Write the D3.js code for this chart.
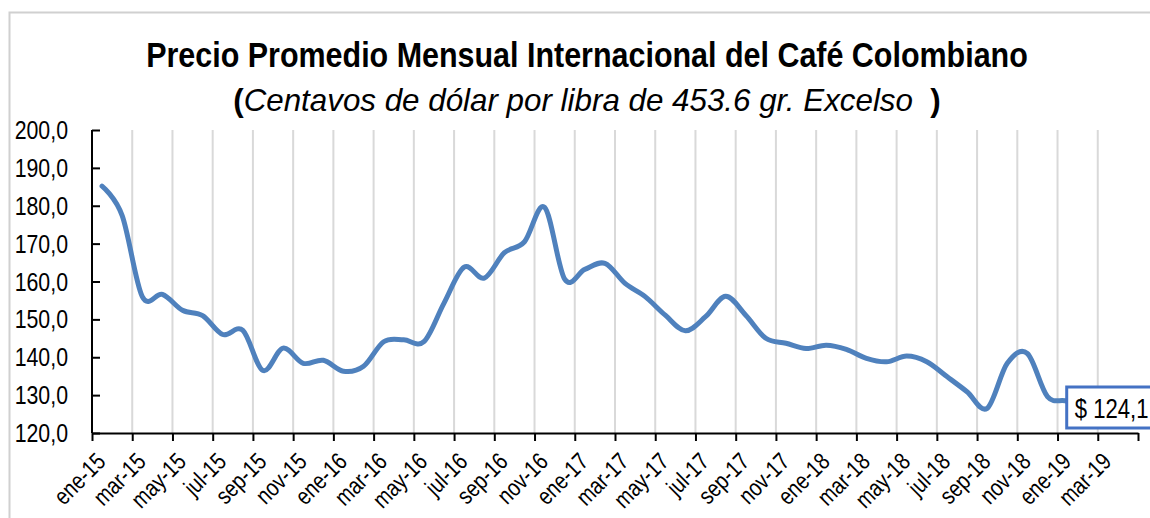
<!DOCTYPE html>
<html lang="es">
<head>
<meta charset="UTF-8">
<script src="https://cdn.jsdelivr.net/npm/d3@7"></script>
<title>Precio Promedio Mensual Internacional del Café Colombiano</title>
<style>
  body { margin: 0; background: #fff; }
  svg text { font-family: "Liberation Sans Narrow", "Arial Narrow", "Liberation Sans", Arial, sans-serif; fill: #000; }
  .grid line { stroke: #d9d9d9; stroke-width: 2px; }
</style>
</head>
<body>
<svg id="chart" width="1150" height="518"></svg>
<script>
// meses ene-15 .. feb-19 (índice de mes desde ene-15)
var precios = [185.2, 177.4, 156.0, 156.6, 152.4, 151.0, 146.0, 147.1, 136.5, 142.4,
               138.4, 139.2, 136.3, 137.6, 144.1, 144.6, 144.1, 154.3, 163.8, 160.9,
               167.6, 170.5, 179.6, 160.6, 163.2, 164.8, 159.5, 156.0, 151.1, 147.0,
               150.7, 156.1, 151.1, 145.0, 143.7, 142.3, 143.2, 142.1, 139.7, 138.8,
               140.3, 138.8, 134.9, 130.9, 126.5, 138.4, 141.0, 129.6, 128.3, 124.1];
var etiquetasX = ["ene-15","mar-15","may-15","jul-15","sep-15","nov-15",
                  "ene-16","mar-16","may-16","jul-16","sep-16","nov-16",
                  "ene-17","mar-17","may-17","jul-17","sep-17","nov-17",
                  "ene-18","mar-18","may-18","jul-18","sep-18","nov-18",
                  "ene-19","mar-19"];
var ticksY = [120, 130, 140, 150, 160, 170, 180, 190, 200];
var ultimoValor = "$ 124,1";

var svg = d3.select("svg#chart");
var angosto = " scale(0.82,1)"; // no hay fuente "narrow": se comprime a mano

// borde del gráfico
svg.append("rect")
    .attr("x", 9.5).attr("y", 12.5)
    .attr("width", 1300).attr("height", 700)
    .attr("fill", "none").attr("stroke", "#d0d0d0").attr("stroke-width", 2);

var x = d3.scaleLinear().domain([0, 52]).range([92, 1138]),
    y = d3.scaleLinear().domain([120, 200]).range([433, 130]);

// comprime un texto centrado hasta el ancho pedido
function ajustar(t, cx, cy, ancho) {
    var w = t.node().getComputedTextLength();
    t.attr("transform", "translate(" + cx + "," + cy + ") scale(" + (ancho / w) + ",1)");
}

// título
var titulo = svg.append("text")
    .attr("text-anchor", "middle")
    .attr("font-size", 35).attr("font-weight", "bold")
    .text("Precio Promedio Mensual Internacional del Café Colombiano");
ajustar(titulo, 587, 67, 882);

var sub = svg.append("text")
    .attr("text-anchor", "middle")
    .attr("font-size", 31)
    .style("white-space", "pre");
sub.append("tspan").attr("font-weight", "bold").text("(");
sub.append("tspan").attr("font-style", "italic").text("Centavos de dólar por libra de 453.6 gr. Excelso  ");
sub.append("tspan").attr("font-weight", "bold").text(")");
ajustar(sub, 587, 111, 708);

// rejilla vertical
var tickMeses = d3.range(0, 53, 2);
svg.append("g").attr("class", "grid")
    .selectAll("line")
    .data(tickMeses.filter(function(d) { return d > 0 && d < 52; }))
    .join("line")
    .attr("x1", function(d) { return x(d); })
    .attr("x2", function(d) { return x(d); })
    .attr("y1", y(200)).attr("y2", y(120));

// eje Y
var ejeY = svg.append("g")
    .attr("transform", "translate(" + x(0) + ",0)")
    .call(d3.axisRight(y).tickValues(ticksY).tickSize(8).tickFormat(function() { return ""; }));
ejeY.selectAll("path, line").attr("stroke", "#000").attr("stroke-width", 2);
ejeY.select("path").attr("d", "M0," + y(200) + "V" + y(120));

svg.append("g").selectAll("text")
    .data(ticksY)
    .join("text")
    .attr("transform", function(d) { return "translate(68," + (y(d) + 9) + ")" + angosto; })
    .attr("text-anchor", "end")
    .attr("font-size", 26)
    .text(function(d) { return d3.format(".1f")(d).replace(".", ","); });

// eje X
var ejeX = svg.append("g")
    .attr("transform", "translate(0," + y(120) + ")")
    .call(d3.axisBottom(x).tickValues(tickMeses).tickSize(8).tickSizeOuter(0)
        .tickFormat(function() { return ""; }));
ejeX.selectAll("path, line").attr("stroke", "#000").attr("stroke-width", 2);

svg.append("g").selectAll("text")
    .data(etiquetasX)
    .join("text")
    .attr("transform", function(d, i) {
        return "translate(" + (x(i * 2) + 15) + ",463) rotate(-45)" + angosto;
    })
    .attr("text-anchor", "end")
    .attr("font-size", 24)
    .text(function(d) { return d; });

// serie
var linea = d3.line()
    .x(function(d, i) { return x(i + 0.5); })
    .y(function(d) { return y(d); })
    .curve(d3.curveCatmullRom.alpha(0));

svg.append("path")
    .attr("d", linea(precios))
    .attr("fill", "none")
    .attr("stroke", "#4f81bd")
    .attr("stroke-width", 5)
    .attr("stroke-linecap", "round")
    .attr("stroke-linejoin", "round");

// etiqueta del último dato
var n = precios.length - 1;
var lx = x(n + 0.5) - 21;
svg.append("rect")
    .attr("x", lx).attr("y", 387)
    .attr("width", 110).attr("height", 41)
    .attr("fill", "#fff").attr("stroke", "#4472c4").attr("stroke-width", 3);
svg.append("text")
    .attr("transform", "translate(" + (lx + 8) + ",418)" + angosto)
    .attr("font-size", 27)
    .text(ultimoValor);
</script>
</body>
</html>
